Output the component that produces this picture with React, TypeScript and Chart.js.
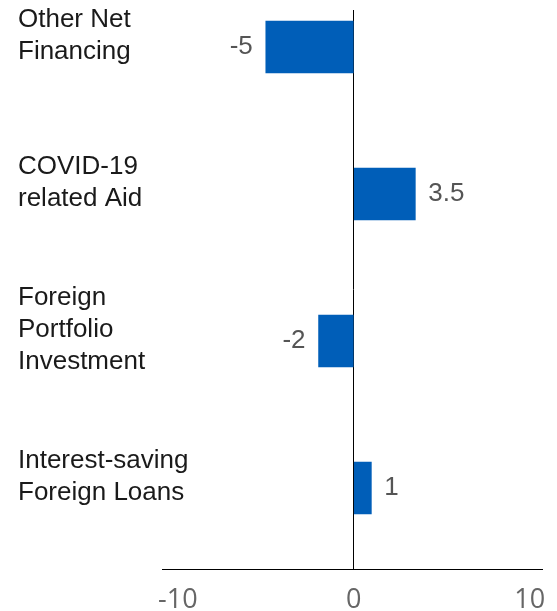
import React, { useEffect, useRef } from "react";
import { Chart, registerables } from "chart.js";

Chart.register(...registerables);

const categories: string[][] = [
  ["Other Net", "Financing"],
  ["COVID-19", "related Aid"],
  ["Foreign", "Portfolio", "Investment"],
  ["Interest-saving", "Foreign Loans"],
];
const values: number[] = [-5, 3.5, -2, 1];
const valueLabels: string[] = ["-5", "3.5", "-2", "1"];
const xTicks: number[] = [-10, 0, 10];

const BAR_COLOR = "#005EB8";
const TEXT_FONT = "26px 'Liberation Sans', Arial, sans-serif";

const valueLabelPlugin = {
  id: "valueLabels",
  afterDatasetsDraw(chart: any) {
    const ctx = chart.ctx;
    const meta = chart.getDatasetMeta(0);
    ctx.save();
    ctx.font = TEXT_FONT;
    ctx.fillStyle = "#555555";
    ctx.textBaseline = "middle";
    meta.data.forEach((bar: any, i: number) => {
      const v = values[i];
      const gap = 13;
      if (v < 0) {
        ctx.textAlign = "right";
        ctx.fillText(valueLabels[i], bar.x - gap, bar.y);
      } else {
        ctx.textAlign = "left";
        ctx.fillText(valueLabels[i], bar.x + gap, bar.y);
      }
    });
    ctx.restore();
  },
};

const categoryLabelPlugin = {
  id: "categoryLabels",
  afterDraw(chart: any) {
    const ctx = chart.ctx;
    const yScale = chart.scales.y;
    const lineH = 32;
    const shift = -11;
    ctx.save();
    ctx.font = TEXT_FONT;
    ctx.fillStyle = "#1a1a1a";
    ctx.textAlign = "left";
    ctx.textBaseline = "middle";
    categories.forEach((lines, i) => {
      const cy = yScale.getPixelForValue(i) + shift;
      const start = cy - ((lines.length - 1) * lineH) / 2;
      lines.forEach((line, j) => {
        ctx.fillText(line, 18, start + j * lineH);
      });
    });
    ctx.restore();
  },
};

export default function App() {
  const ref = useRef<HTMLCanvasElement | null>(null);
  useEffect(() => {
    if (!ref.current) return;
    const chart = new Chart(ref.current, {
      type: "bar",
      data: {
        datasets: [
          {
            data: values.map((v, i) => ({ x: v, y: i })),
            backgroundColor: BAR_COLOR,
            borderWidth: 0,
            barThickness: 52,
          } as any,
        ],
      },
      options: {
        indexAxis: "y",
        animation: false,
        responsive: false,
        layout: { padding: { left: 16, right: 15, top: 10, bottom: 0 } },
        plugins: { legend: { display: false }, tooltip: { enabled: false } },
        scales: {
          x: {
            type: "linear",
            min: -10.9,
            max: 10.7,
            afterBuildTicks: (scale: any) => {
              scale.ticks = xTicks.map((v) => ({ value: v }));
            },
            afterFit: (scale: any) => {
              scale.height = 42;
              scale.paddingLeft = 0;
              scale.paddingRight = 0;
            },
            grid: {
              drawTicks: false,
              color: (c: any) => (c.tick && c.tick.value === 0 ? "#000000" : "rgba(0,0,0,0)"),
              lineWidth: 1,
            },
            border: { display: true, color: "#000000", width: 1 },
            ticks: {
              padding: 15,
              color: "#666666",
              font: { family: "'Open Sans'", size: 27 },
              maxRotation: 0,
              callback: (v: any) => String(v),
            },
          },
          y: {
            type: "linear",
            reverse: true,
            offset: false,
            min: -0.252,
            max: 3.551,
            afterFit: (scale: any) => {
              scale.width = 146;
              scale.paddingTop = 0;
              scale.paddingBottom = 0;
            },
            grid: { display: false },
            border: { display: false },
            ticks: { display: false },
          },
        },
      } as any,
      plugins: [valueLabelPlugin, categoryLabelPlugin],
    });
    return () => chart.destroy();
  }, []);
  return (
    <div style={{ position: "absolute", left: 0, top: 0, width: 557, height: 611 }}>
      <canvas ref={ref} width={557} height={611} style={{ display: "block" }} />
    </div>
  );
}
